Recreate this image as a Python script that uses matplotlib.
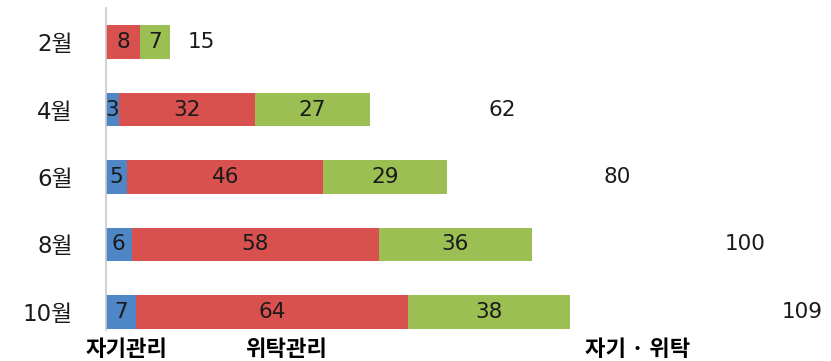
import numpy as np
import matplotlib
matplotlib.use("Agg")
import matplotlib.pyplot as plt

plt.rcParams['font.family'] = ['DejaVu Sans', 'Noto Sans CJK KR']

# 월별 관리 형태 현황
months = ['2월', '4월', '6월', '8월', '10월']
self_mgmt = [0, 3, 5, 6, 7]        # 자기관리
entrusted = [8, 32, 46, 58, 64]    # 위탁관리
mixed = [7, 27, 29, 36, 38]        # 자기·위탁
totals = [15, 62, 80, 100, 109]

series_names = ['자기관리', '위탁관리', '자기 · 위탁']
colors = ['#4f86c6', '#d8514f', '#9bbf52']

fig = plt.figure(figsize=(8.31, 3.61), dpi=100)
ax = fig.add_axes([106 / 831, 1 - 330 / 361, 1 - 106 / 831, 322 / 361])

y = np.arange(len(months))
h = 0.5
left = np.zeros(len(months))
for vals, c in zip([self_mgmt, entrusted, mixed], colors):
    vals = np.array(vals, dtype=float)
    bars = ax.barh(y, vals, left=left, height=h, color=c, edgecolor='none')
    for b, v in zip(bars, vals):
        if v > 0:
            ax.text(b.get_x() + b.get_width() / 2, b.get_y() + h / 2, f'{int(v)}',
                    ha='center', va='center', fontsize=15.5, color='#1a1a1a')
    left += vals

# 합계는 보이지 않는 막대의 가운데에 표시
tot = np.array(totals, dtype=float)
tbars = ax.barh(y, tot, left=left, height=h, color='none', edgecolor='none')
for b, v in zip(tbars, totals):
    ax.text(b.get_x() + b.get_width() / 2, b.get_y() + h / 2, f'{v}',
            ha='center', va='center', fontsize=15.5, color='#1a1a1a')

ax.set_xlim(0, 725 / 4.26)
ax.set_ylim(4.267, -0.504)
ax.set_yticks(y)
ax.set_yticklabels(months, fontsize=16.5, color='#1a1a1a')
ax.tick_params(axis='y', length=0, pad=24)
ax.set_xticks([])
for s in ['top', 'right', 'bottom']:
    ax.spines[s].set_visible(False)
ax.spines['left'].set_color('#c8c8c8')
ax.spines['left'].set_linewidth(1.2)

# 범례 (표식 없이 글자만)
for name, xpos in zip(series_names, [127, 286, 638]):
    fig.text(xpos / 831, 1 - 349 / 361, name, ha='center', va='center',
             fontsize=16, fontweight='bold', family='Noto Sans CJK KR')

fig.savefig('out.png', dpi=100)
